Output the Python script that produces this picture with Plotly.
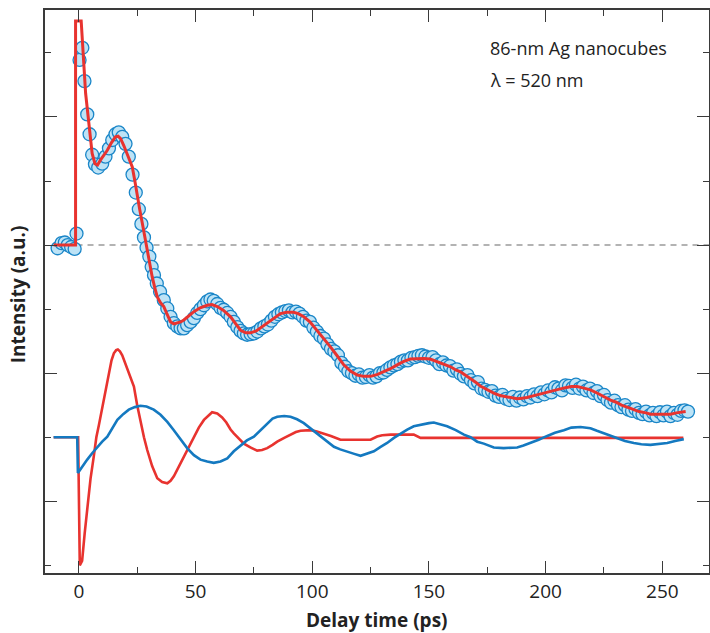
import plotly.graph_objects as go

# measured points (delay in ps, intensity in a.u., dashed baseline = 0)
pts_x = [-9.1, -7.4, -6.0, -4.8, -3.3, -1.8, -1.0,
         0.3, 1.5, 2.4, 3.6, 4.6, 5.7, 6.9, 8.3, 10.0, 11.4, 12.9, 14.3, 15.7, 17.1, 18.6, 20.0,
         21.4, 23.0, 24.4, 25.7, 26.8, 27.9, 29.0, 30.2, 31.2, 32.2, 33.4, 34.8, 36.4, 37.9, 39.3,
         40.7, 42.2, 43.6, 45.0, 46.4, 47.9, 49.3, 50.7, 52.1, 53.6, 55.0, 56.4, 57.8, 59.3, 60.7,
         62.1, 63.6, 65.0, 66.4, 67.9, 69.3, 70.7, 72.1, 73.6,
         75.0, 76.5, 78.0, 79.5, 81.0, 82.5, 84.0, 85.5, 87.0, 88.5, 90.0, 91.5, 93.0, 94.5, 96.0,
         97.5, 99.0, 100.5, 102.0, 103.5, 105.0, 106.5, 108.0, 109.5, 111.0, 112.5, 114.0, 115.5,
         117.0, 118.5, 120.0, 121.5, 123.0, 124.5, 126.0, 127.5, 129.0, 130.5, 132.0, 133.5, 135.0,
         136.5, 138.0, 139.5, 141.0, 142.5, 144.0, 145.5, 147.0, 148.5, 150.0, 151.5, 153.0, 154.5,
         156.0, 157.5, 159.0, 160.5, 162.0, 163.5, 165.0, 166.5, 168.0, 169.5, 171.0, 172.5, 174.0,
         175.5, 177.0, 178.5, 180.0, 181.5, 183.0, 184.5, 186.0, 187.5, 189.0, 190.5, 192.0, 193.5,
         195.0, 196.5, 198.0, 199.5, 201.0, 202.5, 204.0, 205.5, 207.0, 208.5, 210.0, 211.5, 213.0,
         214.5, 216.0, 217.5, 219.0, 220.5, 222.0, 223.5, 225.0, 226.5, 228.0, 229.5, 231.0, 232.5,
         234.0, 235.5, 237.0, 238.5, 240.0, 241.5, 243.0, 244.5, 246.0, 247.5, 249.0, 250.5, 252.0,
         253.5, 255.0, 256.5, 258.0, 259.5, 261.0]
pts_y = [-0.05, 0.03, 0.04, 0.0, -0.03, -0.06, 0.18,
         2.89, 3.08, 2.56, 2.04, 1.73, 1.41, 1.26, 1.21, 1.27, 1.38, 1.51, 1.64, 1.73, 1.76, 1.69, 1.58,
         1.38, 1.10, 0.82, 0.56, 0.33, 0.12, -0.04, -0.18, -0.34, -0.47, -0.60, -0.73, -0.86, -0.99, -1.12,
         -1.22, -1.27, -1.30, -1.30, -1.25, -1.20, -1.14, -1.06, -1.00, -0.94, -0.88, -0.85, -0.87, -0.92, -0.98,
         -1.01, -1.06, -1.12, -1.20, -1.28, -1.34, -1.38, -1.40, -1.39,
         -1.38, -1.35, -1.30, -1.27, -1.24, -1.18, -1.12, -1.08, -1.05, -1.03, -1.02, -1.05, -1.04, -1.07, -1.12,
         -1.18, -1.20, -1.29, -1.35, -1.42, -1.46, -1.55, -1.62, -1.66, -1.72, -1.84, -1.90, -1.97,
         -2.00, -2.04, -2.02, -2.07, -2.06, -2.03, -2.07, -2.05, -2.00, -1.99, -1.95, -1.91, -1.88,
         -1.86, -1.82, -1.80, -1.80, -1.76, -1.75, -1.73, -1.72, -1.74, -1.76, -1.75, -1.80, -1.86,
         -1.83, -1.88, -1.89, -1.96, -1.94, -2.01, -2.05, -2.03, -2.11, -2.16, -2.14, -2.24, -2.26,
         -2.29, -2.28, -2.35, -2.37, -2.34, -2.40, -2.42, -2.37, -2.43, -2.38, -2.41, -2.36, -2.38,
         -2.33, -2.36, -2.30, -2.33, -2.27, -2.30, -2.22, -2.24, -2.27, -2.19, -2.20, -2.23, -2.18,
         -2.24, -2.21, -2.27, -2.24, -2.31, -2.28, -2.36, -2.34, -2.42, -2.46, -2.43, -2.50, -2.53,
         -2.50, -2.57, -2.59, -2.56, -2.62, -2.64, -2.60, -2.66, -2.62, -2.67, -2.61, -2.66, -2.60,
         -2.67, -2.62, -2.65, -2.59, -2.58, -2.60]

# fitted curve
fit_x = [-10.8, -1.4, -1.4, 1.0, 2.9, 4.3, 5.7, 6.9, 8.0, 9.3, 10.7, 12.2, 14.0, 15.7, 16.8, 17.9,
         19.3, 20.7, 22.0, 22.9, 24.0, 25.0, 26.1, 27.2, 28.2, 29.3, 30.4, 31.4, 32.5, 33.6, 35.0,
         36.4, 37.8, 39.3, 40.7, 42.2, 43.6, 45.0, 47.0, 49.3, 52.0, 55.0, 57.0, 59.3, 62.0, 65.0,
         67.0, 69.3, 71.5, 73.6, 76.0, 78.0, 80.7, 83.5, 86.4, 89.0, 92.0, 94.0, 96.4, 99.0, 102.0,
         105.0, 107.8, 110.5, 113.5, 116.5, 119.3, 122.0, 125.0, 128.0, 130.7, 133.5, 136.4, 139.0,
         142.0, 145.0, 147.8, 150.5, 153.6, 156.5, 159.3, 161.5, 163.5, 165.5, 167.8, 170.0, 172.0,
         175.0, 177.8, 180.5, 183.0, 185.5, 187.8, 190.0, 192.0, 195.0, 198.0, 202.0, 205.0, 208.0,
         211.0, 213.5, 216.0, 219.2, 222.0, 225.0, 227.8, 230.0, 232.5, 236.4, 240.0, 243.0, 245.0,
         250.0, 253.5, 256.0, 260.0]
fit_y = [0.0, 0.0, 3.5, 3.5, 2.37, 1.85, 1.43, 1.27, 1.25, 1.33, 1.40, 1.48, 1.60, 1.69, 1.70, 1.66,
         1.55, 1.43, 1.30, 1.22, 1.00, 0.75, 0.55, 0.34, 0.13, -0.08, -0.29, -0.49, -0.66, -0.81, -0.90,
         -0.96, -1.08, -1.20, -1.23, -1.22, -1.20, -1.17, -1.11, -1.04, -0.98, -0.94, -0.93, -0.96, -1.02, -1.12,
         -1.22, -1.33, -1.37, -1.37, -1.34, -1.29, -1.22, -1.14, -1.07, -1.05, -1.05, -1.07, -1.12, -1.20, -1.33,
         -1.46, -1.59, -1.72, -1.87, -1.97, -2.03, -2.05, -2.05, -2.02, -1.98, -1.93, -1.87, -1.82,
         -1.78, -1.77, -1.77, -1.78, -1.82, -1.86, -1.90, -1.95, -1.98, -2.03, -2.08, -2.14, -2.20,
         -2.26, -2.31, -2.35, -2.37, -2.39, -2.40, -2.39, -2.38, -2.35, -2.32, -2.29, -2.25, -2.23,
         -2.21, -2.21, -2.23, -2.26, -2.31, -2.37, -2.42, -2.45, -2.50, -2.55, -2.60, -2.62, -2.64,
         -2.64, -2.64, -2.62, -2.60]

# red component (offset to -3)
red_x = [-10.8, -0.3, 0.4, 1.4, 2.5, 3.6, 5.0, 6.4, 7.5, 8.6, 9.6, 10.7, 11.8, 12.9, 14.0, 15.0,
         16.0, 16.7, 17.6, 18.6, 20.0, 21.4, 22.5, 23.6, 25.0, 26.4, 27.9, 29.3, 31.4, 33.6, 35.7,
         37.9, 39.3, 40.7, 42.8, 45.0, 47.1, 49.3, 51.4, 53.6, 55.4, 57.1, 59.3, 61.4, 63.2, 65.0,
         66.4, 68.6, 70.7, 73.5, 76.4, 78.5, 80.7, 83.0, 85.0, 88.0, 90.7, 93.0, 95.0, 97.0, 99.3,
         102.0, 105.0, 108.0, 112.1, 118.0, 125.0, 127.8, 130.0, 133.6, 140.0, 143.5, 146.4, 200.0, 259.0]
red_y = [-3.0, -3.0, -5.0, -4.93, -4.5, -4.08, -3.65, -3.30, -3.0, -2.81, -2.62, -2.47, -2.25, -2.0, -1.80, -1.69,
         -1.64, -1.63, -1.66, -1.72, -1.85, -1.98, -2.08, -2.21, -2.50, -2.76, -3.0, -3.2, -3.45, -3.64, -3.70,
         -3.72, -3.68, -3.61, -3.46, -3.30, -3.14, -2.99, -2.85, -2.73, -2.66, -2.61, -2.63, -2.69, -2.77, -2.88,
         -2.94, -3.03, -3.10, -3.16, -3.21, -3.20, -3.17, -3.12, -3.07, -3.01, -2.96, -2.92, -2.90, -2.89, -2.89,
         -2.91, -2.94, -2.98, -3.04, -3.04, -3.04, -2.99, -2.97, -2.96, -2.96, -2.96, -3.01, -3.01, -3.01]

# blue component (offset to -3)
blue_x = [-10.8, -0.7, -0.4, 1.5, 3.6, 5.7, 7.9, 10.0, 12.2, 14.3, 16.5, 19.0, 21.4, 24.0, 26.4, 29.0,
          32.1, 35.0, 37.9, 40.7, 43.6, 46.4, 49.3, 52.1, 55.0, 57.8, 60.7, 63.6, 66.4, 69.3, 72.0,
          75.0, 78.0, 80.7, 83.0, 85.0, 88.0, 90.7, 93.5, 96.4, 99.3, 102.1, 105.7, 109.3, 112.0, 115.0,
          118.0, 120.7, 123.5, 126.4, 129.3, 132.1, 135.0, 137.8, 140.7, 143.5, 147.0, 150.0, 152.1,
          155.0, 157.8, 161.5, 165.0, 167.8, 170.7, 173.5, 177.8, 182.0, 187.8, 190.5, 193.5, 197.0,
          200.7, 204.0, 207.8, 211.0, 215.0, 219.2, 222.0, 225.0, 228.0, 230.7, 234.0, 237.8, 241.0,
          244.9, 248.5, 252.1, 255.5, 259.2]
blue_y = [-3.0, -3.0, -3.56, -3.45, -3.35, -3.25, -3.15, -3.07, -2.99, -2.86, -2.73, -2.64, -2.57, -2.53, -2.51, -2.52,
          -2.57, -2.65, -2.76, -2.89, -3.04, -3.17, -3.28, -3.35, -3.38, -3.40, -3.38, -3.33, -3.22, -3.13, -3.05,
          -2.99, -2.88, -2.78, -2.71, -2.68, -2.67, -2.68, -2.72, -2.78, -2.86, -2.94, -3.05, -3.15, -3.19, -3.22,
          -3.26, -3.29, -3.26, -3.22, -3.15, -3.09, -3.01, -2.94, -2.88, -2.83, -2.80, -2.78, -2.77,
          -2.80, -2.83, -2.89, -2.96, -3.00, -3.07, -3.10, -3.16, -3.17, -3.16, -3.13, -3.09, -3.04,
          -2.98, -2.93, -2.89, -2.85, -2.84, -2.86, -2.90, -2.94, -2.98, -3.02, -3.06, -3.09, -3.11,
          -3.12, -3.11, -3.09, -3.06, -3.03]

RED = "#e8332f"
BLUE = "#1479c0"
AXC = "#3a3a3a"
FONT = "Open Sans"

fig = go.Figure()
fig.add_trace(go.Scatter(x=pts_x, y=pts_y, mode="markers",
                         marker=dict(size=13, color="#bde3f6", line=dict(color="#1a86c8", width=1.3))))
fig.add_trace(go.Scatter(x=fit_x, y=fit_y, mode="lines", line=dict(color=RED, width=3)))
fig.add_trace(go.Scatter(x=red_x, y=red_y, mode="lines", line=dict(color=RED, width=2.6)))
fig.add_trace(go.Scatter(x=blue_x, y=blue_y, mode="lines", line=dict(color=BLUE, width=2.6)))

# zero baseline
fig.add_shape(type="line", xref="x", yref="y", x0=-1, x1=270, y0=0, y1=0, layer="below",
              line=dict(color="#9a9a9a", width=1.5, dash="6px,5px"))

fig.update_xaxes(range=[-14.5, 270], tickvals=[0, 50, 100, 150, 200, 250],
                 ticks="inside", ticklen=12, tickwidth=1.3, tickcolor=AXC,
                 minor=dict(dtick=25, tick0=25, ticks="inside", ticklen=6, tickwidth=1.3, tickcolor=AXC),
                 showline=True, linecolor=AXC, linewidth=1.5, mirror="ticks",
                 showgrid=False, zeroline=False, automargin=False,
                 tickfont=dict(family=FONT, size=19, color="#222"))
fig.update_yaxes(range=[-5.12, 3.67], tick0=0, dtick=2,
                 ticks="inside", ticklen=12, tickwidth=1.3, tickcolor=AXC,
                 minor=dict(dtick=1, tick0=1, ticks="inside", ticklen=6, tickwidth=1.3, tickcolor=AXC),
                 showline=True, linecolor=AXC, linewidth=1.5, mirror="ticks",
                 showgrid=False, zeroline=False, showticklabels=False, automargin=False)

fig.add_annotation(text="<b>Delay time (ps)</b>", xref="paper", yref="paper", x=0.5, y=0,
                   yshift=-47, yanchor="middle", showarrow=False,
                   font=dict(family=FONT, size=19, color="#222"))
fig.add_annotation(text="<b>Intensity (a.u.)</b>", xref="paper", yref="paper", x=0, y=0.495,
                   xshift=-27, textangle=-90, xanchor="center", showarrow=False,
                   font=dict(family=FONT, size=19, color="#222"))
fig.add_annotation(text="86-nm Ag nanocubes", xref="x", yref="y", x=175.5, y=3.08,
                   xanchor="left", showarrow=False, font=dict(family=FONT, size=18, color="#222"))
fig.add_annotation(text="λ = 520 nm", xref="x", yref="y", x=175.5, y=2.58,
                   xanchor="left", showarrow=False, font=dict(family=FONT, size=18, color="#222"))

fig.update_layout(width=710, height=633, margin=dict(l=45, r=1, t=10, b=60, autoexpand=False),
                  plot_bgcolor="white", paper_bgcolor="white", showlegend=False)
# page body has a default 8px margin; drop it so the figure fills the window
fig.write_html("out.html", config={"displayModeBar": False},
               post_script="document.body.style.margin='0';")
